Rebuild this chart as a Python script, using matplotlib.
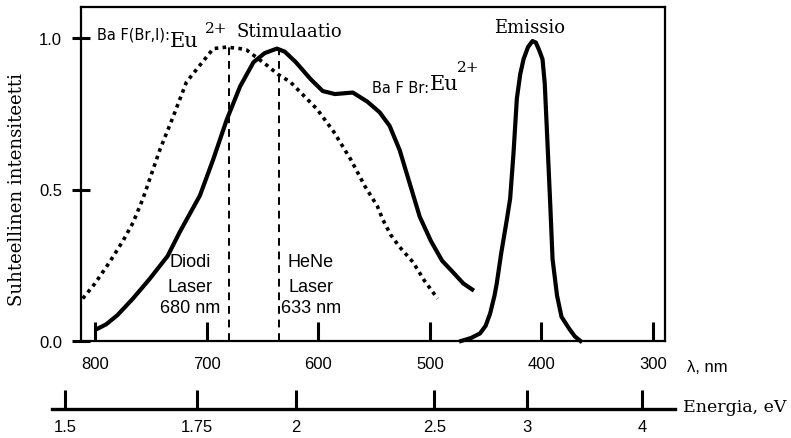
import matplotlib
matplotlib.use("Agg")
import matplotlib.pyplot as plt

W, H = 791, 439

# BaF(Br,I):Eu2+ stimulation (dotted)
bafbri_nm = [811, 800, 787, 775, 766, 757, 742, 730, 718, 706, 694, 682, 670, 664,
             655, 646, 636, 625, 613, 601, 586, 571, 558, 547, 542, 535, 527, 515, 505, 493]
bafbri_int = [0.14, 0.19, 0.26, 0.33, 0.39, 0.47, 0.63, 0.74, 0.855, 0.91, 0.965, 0.97, 0.965, 0.96,
              0.935, 0.91, 0.88, 0.855, 0.81, 0.765, 0.69, 0.60, 0.51, 0.445, 0.40, 0.35, 0.31, 0.26, 0.20, 0.14]

# BaFBr:Eu2+ stimulation (solid)
bafbr_nm = [798, 790, 780, 766, 751, 735, 724, 715, 706, 694, 682, 670, 658, 648, 637, 630,
            620, 607, 596, 585, 569, 556, 545, 536, 527, 518, 509, 499, 489, 480, 470, 462]
bafbr_int = [0.04, 0.055, 0.085, 0.14, 0.205, 0.28, 0.36, 0.42, 0.48, 0.60, 0.73, 0.84, 0.92, 0.95, 0.965, 0.955,
             0.92, 0.865, 0.825, 0.815, 0.82, 0.79, 0.755, 0.71, 0.63, 0.52, 0.41, 0.33, 0.265, 0.23, 0.19, 0.17]

# emission
emis_nm = [472, 463, 455, 450, 446, 442, 440, 436, 431, 428, 425, 422, 419, 416, 412, 408, 405, 402,
           399, 397, 395, 392, 390, 386, 382, 375, 370, 365]
emis_int = [0.0, 0.01, 0.025, 0.05, 0.09, 0.15, 0.19, 0.29, 0.40, 0.47, 0.62, 0.80, 0.88, 0.93, 0.97, 0.99, 0.985, 0.96,
            0.93, 0.85, 0.69, 0.445, 0.27, 0.15, 0.08, 0.04, 0.015, 0.0]

laser_nm = [680, 635]
laser_top = [0.97, 0.965]

nm_ticks = [800, 700, 600, 500, 400, 300]
ev_ticks = [1.5, 1.75, 2, 2.5, 3, 4]
ev_labels = ["1.5", "1.75", "2", "2.5", "3", "4"]
y_ticks = [0.0, 0.5, 1.0]

SANS = "Liberation Sans"
SERIF = "DejaVu Serif"


def px(x, y):
    return x / W, 1 - y / H


# pixel -> wavelength (reversed, linear): 800 nm at x=95, 300 nm at x=653
scale = (653 - 95) / 500.0


def nm_at(x):
    return 800 - (x - 95) / scale


fig = plt.figure(figsize=(W / 100, H / 100), dpi=100)
ax = fig.add_axes([81 / W, (H - 342) / H, (665 - 81) / W, (342 - 8) / H])
ax.set_xlim(nm_at(81), nm_at(665))
ax.set_ylim(0, (342 - 8) / 303.0)

ax.plot(bafbri_nm, bafbri_int, color="black", lw=2.6, linestyle=(0, (1, 1.2)))
ax.plot(bafbr_nm, bafbr_int, color="black", lw=3, solid_joinstyle="round")
ax.plot(emis_nm, emis_int, color="black", lw=3, clip_on=False)
for x, top in zip(laser_nm, laser_top):
    ax.plot([x, x], [0, top], color="black", lw=1.4, linestyle=(0, (4, 3)))

for s in ax.spines.values():
    s.set_linewidth(1.6)
ax.set_xticks(nm_ticks)
ax.set_xticklabels([str(t) for t in nm_ticks], fontfamily=SANS, fontsize=12)
ax.tick_params(axis="x", direction="in", length=14, width=2.2, pad=11)
ax.set_yticks(y_ticks)
ax.set_yticklabels(["0.0", "0.5", "1.0"], fontfamily=SANS, fontsize=12)
ax.tick_params(axis="y", direction="inout", length=13, width=2.2, pad=7)

# energy axis
ax2 = fig.add_axes([52 / W, (H - 410) / H, (675 - 52) / W, 0.001])
ax2.set_xlim(nm_at(52), nm_at(675))
ax2.set_ylim(0, 1)
for side in ["top", "left", "right"]:
    ax2.spines[side].set_visible(False)
ax2.spines["bottom"].set_linewidth(2.4)
ax2.set_yticks([])
ax2.set_xticks([1240.0 / e for e in ev_ticks])
ax2.set_xticklabels(ev_labels, fontfamily=SANS, fontsize=12)
ax2.tick_params(axis="x", direction="in", length=14, width=2.2, pad=7)
ax2.patch.set_visible(False)

# labels
fig.text(*px(17, 190), "Suhteellinen intensiteetti", rotation=90, ha="center", va="center",
         fontfamily=SERIF, fontsize=13)
fig.text(*px(687, 367), "λ, nm", ha="left", va="center", fontfamily=SANS, fontsize=12)
fig.text(*px(683, 408), "Energia, eV", ha="left", va="center", fontfamily=SERIF, fontsize=12.5)

fig.text(*px(97, 39), "Ba F(Br,I):", ha="left", va="baseline", fontfamily="DejaVu Sans", fontsize=10.5)
fig.text(*px(170, 47), "Eu", ha="left", va="baseline", fontfamily=SERIF, fontsize=15)
fig.text(*px(205, 33), "2+", ha="left", va="baseline", fontfamily=SERIF, fontsize=11)
fig.text(*px(237, 37), "Stimulaatio", ha="left", va="baseline", fontfamily=SERIF, fontsize=13)

fig.text(*px(372, 93), "Ba F Br:", ha="left", va="baseline", fontfamily="DejaVu Sans", fontsize=10.5)
fig.text(*px(430, 90), "Eu", ha="left", va="baseline", fontfamily=SERIF, fontsize=15)
fig.text(*px(457, 72), "2+", ha="left", va="baseline", fontfamily=SERIF, fontsize=11)

fig.text(*px(530, 33), "Emissio", ha="center", va="baseline", fontfamily=SERIF, fontsize=13)

for cx, lines in [(190, ["Diodi", "Laser", "680 nm"]), (311, ["HeNe", "Laser", "633 nm"])]:
    for cy, t in zip([263, 287, 309], lines):
        fig.text(*px(cx, cy), t, ha="center", va="center", fontfamily=SANS, fontsize=13)

fig.savefig("out.png", dpi=100)
